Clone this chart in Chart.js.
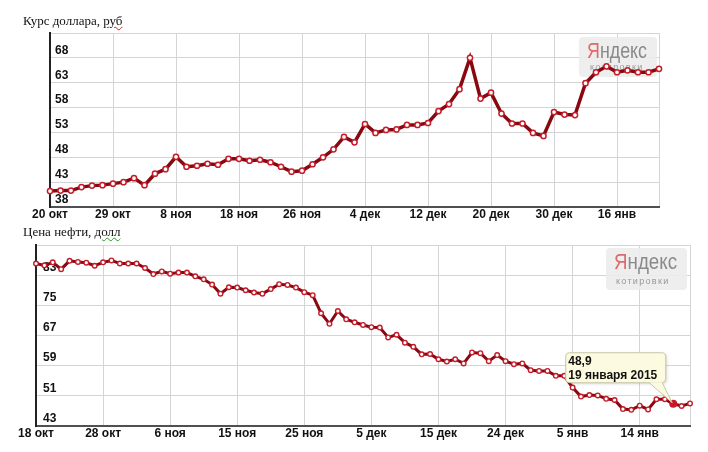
<!DOCTYPE html>
<html><head><meta charset="utf-8">
<script src="https://cdn.jsdelivr.net/npm/chart.js@4"></script>
<style>
html,body{margin:0;padding:0;background:#fff;}
body{width:708px;height:452px;position:relative;overflow:hidden;}
canvas{position:absolute;left:0;}
.t{position:absolute;left:23px;font-family:"Liberation Serif","Times New Roman",serif;font-size:13px;line-height:15px;color:#111;white-space:nowrap;z-index:2;}
.w1{text-decoration:underline wavy #d02020;text-decoration-thickness:1px;}
.w2{text-decoration:underline wavy #2a9a2a;text-decoration-thickness:1px;}
</style></head>
<body>
<canvas id="c1" width="708" height="226" style="top:0"></canvas>
<canvas id="c2" width="708" height="226" style="top:226px"></canvas>
<div class="t" style="top:13px">Курс доллара, <span class="w1">руб</span></div>
<div class="t" style="top:224px">Цена нефти, <span class="w2">долл</span></div>
<script>
// ---- data ----
const usdTickLabels = ['20 окт','29 окт','8 ноя','18 ноя','26 ноя','4 дек','12 дек','20 дек','30 дек','16 янв'];
const usdPointsPerLabel = 6;
const usdValues = [41.2,41.3,41.3,42.0,42.3,42.4,42.7,43.0,43.8,42.4,
  44.7,45.6,48.1,46.1,46.3,46.7,46.5,47.7,47.7,47.3,
  47.5,47.0,46.1,45.1,45.3,46.6,48.0,49.6,52.1,51.0,
  54.7,52.9,53.5,53.6,54.5,54.5,54.9,57.3,58.7,61.7,
  68.0,59.8,61.0,56.8,54.8,54.8,52.9,52.3,57.1,56.6,
  56.5,62.9,65.1,66.3,65.1,65.5,65.1,65.1,65.8];
const usdYTicks = [38,43,48,53,58,63,68,73];

const oilTickLabels = ['18 окт','28 окт','6 ноя','15 ноя','25 ноя','5 дек','15 дек','24 дек','5 янв','14 янв'];
const oilPointsPerLabel = 8;
const oilValues = [86.1,85.6,86.4,84.6,86.8,86.5,86.3,85.5,86.4,86.9,
  86.1,86.1,86.1,84.9,83.3,84.0,83.4,83.7,83.7,82.7,
  81.9,80.5,78.1,79.8,79.7,79.0,78.4,78.1,79.3,80.6,
  80.4,79.7,78.5,77.7,72.9,70.1,73.5,71.3,70.5,69.8,
  69.2,69.1,66.5,67.2,65.1,64.0,62.0,62.1,60.7,60.1,
  60.7,59.6,62.5,62.3,60.2,61.8,60.2,59.4,59.6,57.8,
  57.6,57.6,56.3,56.3,53.2,50.8,51.2,51.1,50.2,49.9,
  47.5,47.3,48.4,47.4,50.1,50.1,48.9,48.3,49.0];
const oilYTicks = [43,51,59,67,75,83,91];

const tipIndex = 76;
const tipValueText = '48,9';
const tipDateText = '19 января 2015';
const wmMain = 'Яндекс';
const wmSub = 'котировки';

// ---- helpers ----
function rr(ctx, x, y, w, h, r) {
  ctx.beginPath();
  ctx.moveTo(x + r, y);
  ctx.lineTo(x + w - r, y); ctx.quadraticCurveTo(x + w, y, x + w, y + r);
  ctx.lineTo(x + w, y + h - r); ctx.quadraticCurveTo(x + w, y + h, x + w - r, y + h);
  ctx.lineTo(x + r, y + h); ctx.quadraticCurveTo(x, y + h, x, y + h - r);
  ctx.lineTo(x, y + r); ctx.quadraticCurveTo(x, y, x + r, y);
  ctx.closePath();
}

const watermark = {
  id: 'wm',
  beforeDatasetsDraw(chart, args, o) {
    const {ctx, chartArea: a} = chart;
    const w = o.w, h = o.h, x = a.right - w - o.dr, y = a.top + o.dt;
    ctx.save();
    ctx.fillStyle = 'rgba(236,236,236,0.9)';
    rr(ctx, x, y, w, h, 4); ctx.fill();
    ctx.font = '22px "Liberation Sans", Arial, sans-serif';
    ctx.textBaseline = 'alphabetic';
    const full = ctx.measureText(wmMain).width;
    const sx = o.tw / full;
    const first = wmMain.charAt(0), rest = wmMain.slice(1);
    ctx.save();
    ctx.translate(x + o.tx, y + 21);
    ctx.scale(sx, 1);
    ctx.fillStyle = '#e06a6a';
    ctx.fillText(first, 0, 0);
    const fw = ctx.measureText(first).width;
    ctx.fillStyle = '#8a8a8a';
    ctx.fillText(rest, fw, 0);
    ctx.restore();
    ctx.font = '9px "Liberation Sans", Arial, sans-serif';
    ctx.fillStyle = '#999';
    try { ctx.letterSpacing = '1.3px'; } catch (e) {}
    ctx.fillText(wmSub, x + o.sx, y + o.sy);
    ctx.restore();
  }
};

const callout = {
  id: 'callout',
  afterDatasetsDraw(chart, args, o) {
    if (!o || !o.enabled) return;
    const p = chart.getDatasetMeta(0).data[tipIndex];
    if (!p) return;
    const ctx = chart.ctx;
    const bx = p.x - 107.5, by = p.y - 51, bw = 100, bh = 30;
    ctx.save();
    ctx.shadowColor = 'rgba(0,0,0,0.18)';
    ctx.shadowBlur = 3; ctx.shadowOffsetX = 1; ctx.shadowOffsetY = 1;
    ctx.fillStyle = '#fcfadf';
    ctx.strokeStyle = '#c9c6a8';
    ctx.lineWidth = 1;
    rr(ctx, bx, by, bw, bh, 4);
    ctx.fill();
    ctx.shadowColor = 'transparent';
    ctx.stroke();
    ctx.beginPath();
    ctx.moveTo(p.x - 24, by + bh - 0.5);
    ctx.lineTo(p.x - 1, p.y - 1);
    ctx.lineTo(p.x - 11, by + bh - 0.5);
    ctx.closePath();
    ctx.fillStyle = '#fcfadf';
    ctx.fill();
    ctx.beginPath();
    ctx.moveTo(p.x - 24, by + bh);
    ctx.lineTo(p.x - 1, p.y - 1);
    ctx.lineTo(p.x - 11, by + bh);
    ctx.stroke();
    ctx.fillStyle = '#111';
    ctx.font = 'bold 12px "Liberation Sans", Arial, sans-serif';
    ctx.textBaseline = 'alphabetic';
    ctx.fillText(tipValueText, bx + 2.5, p.y - 38.5);
    ctx.fillText(tipDateText, bx + 2.5, p.y - 25);
    ctx.restore();
  }
};

function makeChart(id, values, tickLabels, every, yTicks, cfg) {
  const n = values.length;
  const xTickVals = [];
  for (let v = 0; v < n; v += every) xTickVals.push(v);
  if (xTickVals[xTickVals.length - 1] !== n - 1) xTickVals.push(n - 1);
  const yMin = yTicks[0], yMax = yTicks[yTicks.length - 1];
  return new Chart(document.getElementById(id), {
    type: 'line',
    data: {
      datasets: [{
        data: values.map((v, i) => ({x: i, y: v})),
        borderColor: '#880812',
        borderWidth: cfg.lw,
        pointRadius: ctx => ctx.dataIndex === cfg.hi ? cfg.pr + 1 : cfg.pr,
        pointBorderWidth: cfg.pbw,
        pointBorderColor: '#c41c2a',
        pointBackgroundColor: ctx => ctx.dataIndex === cfg.hi ? '#d0141f' : '#ffffff',
        tension: 0,
        clip: 6
      }]
    },
    options: {
      responsive: false,
      animation: false,
      devicePixelRatio: 1,
      layout: {padding: cfg.pad},
      plugins: {
        legend: {display: false},
        tooltip: {enabled: false},
        wm: cfg.wm,
        callout: {enabled: cfg.hi !== undefined}
      },
      scales: {
        x: {
          type: 'linear', min: 0, max: n - 1,
          afterBuildTicks: s => { s.ticks = xTickVals.map(v => ({value: v})); },
          afterFit: s => { s.height = 16; },
          grid: {color: '#d5d5d5', lineWidth: 1, drawTicks: false},
          border: {color: '#505050', width: 2},
          ticks: {
            autoSkip: false, maxRotation: 0, padding: 0,
            color: '#111',
            font: {family: '"Liberation Sans", Arial, sans-serif', size: 12, weight: 'bold'},
            callback: v => (v % every === 0 && tickLabels[v / every] !== undefined) ? tickLabels[v / every] : ''
          }
        },
        y: {
          min: yMin, max: yMax,
          afterBuildTicks: s => { s.ticks = yTicks.map(v => ({value: v})); },
          afterFit: s => { s.width = 0; },
          grid: {color: '#d5d5d5', lineWidth: 1, drawTicks: false},
          border: {color: '#222', width: 2},
          ticks: {
            mirror: true, padding: cfg.ypad, labelOffset: -7.5,
            color: '#111',
            font: {family: '"Liberation Sans", Arial, sans-serif', size: 12, weight: 'bold'},
            callback: v => v === yMax ? '' : String(v)
          }
        }
      }
    },
    plugins: [watermark, callout]
  });
}

makeChart('c1', usdValues, usdTickLabels, usdPointsPerLabel, usdYTicks, {
  pad: {left: 50, top: 33, right: 49, bottom: 3},
  lw: 3.5, pr: 2.6, pbw: 1.5, ypad: 5,
  wm: {w: 78, h: 40, dr: 2, dt: 4, tx: 8, tw: 60, sx: 11, sy: 33}
});
makeChart('c2', oilValues, oilTickLabels, oilPointsPerLabel, oilYTicks, {
  pad: {left: 36, top: 19, right: 18, bottom: 10},
  lw: 3, pr: 2.3, pbw: 1.4, ypad: 7, hi: tipIndex,
  wm: {w: 81, h: 42, dr: 3, dt: 3, tx: 8, tw: 63, sx: 10, sy: 36}
});
</script>
</body></html>
